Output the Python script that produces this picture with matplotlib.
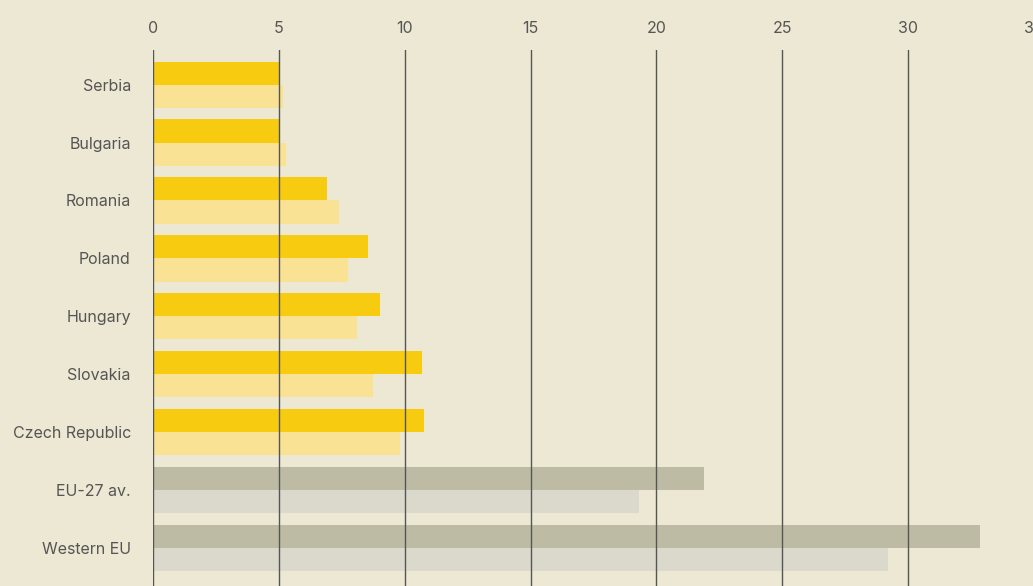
import matplotlib.pyplot as plt
import numpy as np

# Data
countries = ['Serbia', 'Bulgaria', 'Romania', 'Poland', 'Hungary', 'Slovakia',
             'Czech Republic', 'EU-27 av.', 'Western EU']
series_a = [5.05, 5.0, 6.9, 8.55, 9.0, 10.7, 10.75, 21.9, 32.85]
series_b = [5.15, 5.3, 7.4, 7.75, 8.1, 8.75, 9.8, 19.3, 29.2]
ticks = [0, 5, 10, 15, 20, 25, 30, 35]

bg = '#EDE8D3'
dark_cols = ['#F7CC10'] * 7 + ['#BDBBA3'] * 2
light_cols = ['#FAE294'] * 7 + ['#DAD9CC'] * 2
txt = '#555555'

plt.rcParams['font.family'] = ['Inter', 'DejaVu Sans']

fig = plt.figure(figsize=(10.33, 5.86), dpi=100)
fig.patch.set_facecolor(bg)
ax = fig.add_axes([153 / 1033, 0, 881 / 1033, 536 / 586])
ax.set_facecolor(bg)

y = np.arange(len(countries))
h = 0.4
ax.barh(y - h / 2, series_a, height=h, color=dark_cols, zorder=2)
ax.barh(y + h / 2, series_b, height=h, color=light_cols, zorder=2)

# gridlines drawn over the bars
for t in ticks:
    ax.axvline(t, color='#555555', lw=1.0, zorder=3)

ax.set_xlim(0, 35)
ax.set_ylim(8.66, -0.6)
ax.set_yticks(y)
ax.set_yticklabels(countries)
ax.set_xticks(ticks)
ax.xaxis.tick_top()
ax.tick_params(axis='x', length=0, pad=10, labelsize=11.5, labelcolor=txt)
ax.tick_params(axis='y', length=0, pad=16, labelsize=11.5, labelcolor=txt)
for s in ax.spines.values():
    s.set_visible(False)

fig.savefig('out.png', dpi=100, facecolor=bg)
